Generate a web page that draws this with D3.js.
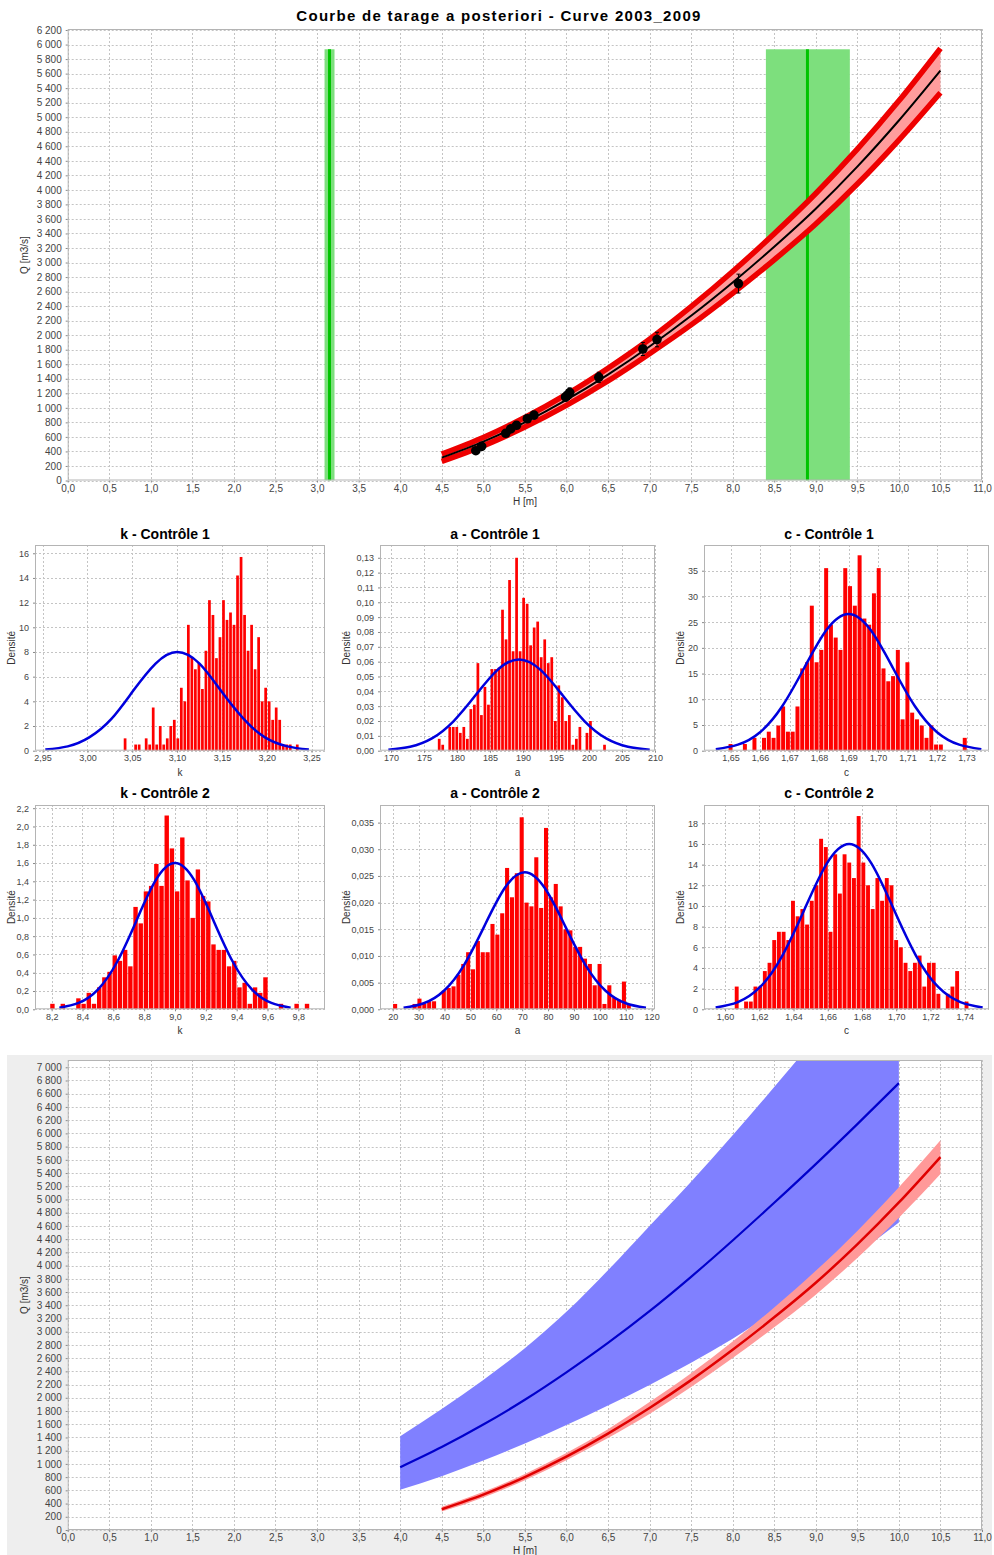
<!DOCTYPE html>
<html><head><meta charset="utf-8">
<script src="https://cdn.jsdelivr.net/npm/d3@7"></script>
<style>body{margin:0;background:#fff}svg{display:block}text{font-family:"Liberation Sans",Arial,sans-serif}</style>
</head><body><svg id="c" width="994" height="1555"></svg>
<script>
// ---------- DATA ----------
// Rating curve (posterior): stage H, median Q, uncertainty bands
const curveH    = [4.5, 5.0, 5.5, 6.0, 6.5, 7.0, 7.5, 8.0, 8.5, 9.0, 9.5, 10.0, 10.5];
const curveMed  = [314, 535, 801, 1109, 1458, 1845, 2267, 2726, 3217, 3740, 4320, 4955, 5642];
const curveLow  = [278, 493, 753, 1054, 1390, 1755, 2162, 2601, 3067, 3560, 4115, 4725, 5387];
const curveHigh = [350, 577, 849, 1164, 1526, 1935, 2372, 2851, 3367, 3920, 4525, 5185, 5897];
const totalLow  = [264, 477, 735, 1034, 1370, 1745, 2142, 2576, 3037, 3530, 4080, 4685, 5337];
const totalHigh = [364, 593, 867, 1184, 1546, 1945, 2392, 2876, 3397, 3950, 4560, 5225, 5947];
// gaugings
const gaugH   = [4.91, 4.98, 5.27, 5.33, 5.40, 5.53, 5.61, 5.99, 6.02, 6.04, 6.39, 6.92, 7.09, 8.07];
const gaugQ   = [410, 470, 650, 710, 760, 850, 900, 1150, 1180, 1210, 1420, 1810, 1940, 2710];
const gaugErr = [30, 30, 40, 40, 45, 50, 50, 60, 65, 65, 70, 90, 100, 130];
// activation stages (green)
const actLow  = [3.09, 8.40];
const actHigh = [3.21, 9.41];
const actMid  = [3.15, 8.90];
const actTop  = [5935, 5935];
// prior curve (bottom chart)
const priorH    = [4.0, 4.5, 5.0, 5.5, 6.0, 6.5, 7.0, 7.5, 8.0, 8.5, 9.0, 9.5, 10.0];
const priorMed  = [950, 1255, 1595, 1970, 2385, 2830, 3310, 3830, 4380, 4950, 5535, 6140, 6760];
const priorLow  = [610, 815, 1050, 1310, 1590, 1885, 2195, 2530, 2895, 3295, 3725, 4180, 4650];
const priorHigh = [1420, 1830, 2270, 2750, 3300, 3930, 4600, 5270, 5970, 6700, 7450, 8230, 9030];

// histograms: first bin centre, bin width, densities
const k1Start = 3.042, k1Width = 0.00392;
const k1Dens = [1.0,0,0,0.5,0.5,0,1.0,0.5,3.5,0.5, 2.0,0.5,1.0,2.0,2.5,1.0,5.1,4.0,10.2,7.6, 6.6,7.1,5.0,8.1,12.2,11.0,7.5,9.2,12.2,10.6, 11.2,10.2,14.2,15.7,11.0,8.1,10.2,6.6,9.2,4.0, 5.1,4.0,2.5,3.5,2.5,0.5,0.5,0.5,0,0.5];
const a1Start = 177.3, a1Width = 0.533;
const a1Dens = [0.008,0.004,0,0.016,0.016,0.016,0.012,0.016,0.008,0.028, 0.031,0.059,0.024,0.043,0.031,0.055,0.055,0.056,0.095,0.075, 0.115,0.067,0.13,0.067,0.103,0.099,0.071,0.083,0.087,0.063, 0.075,0.059,0.063,0.020,0.044,0.036,0.020,0.024,0.004,0.008, 0.016,0,0.012,0.020,0,0,0,0.004];
const c1Start = 1.650, c1Width = 0.00162;
const c1Dens = [1.3,0,0,1.3,0,2.5,0,2.5,3.7,2.5, 4.9,8.6,3.7,3.7,8.6,16.0,17.2,28.2,17.2,19.6, 35.5,24.5,22.0,19.6,35.5,32.0,28.2,38.0,25.7,24.5, 30.6,35.5,16.0,13.5,14.5,19.6,6.1,17.2,7.4,6.1, 4.9,2.5,4.9,1.2,1.2,0,0,0,0,2.5];
const k2Start = 8.205, k2Width = 0.0337;
const k2Dens = [0.06,0,0.06,0,0,0.12,0.06,0.18,0.06,0.24, 0.35,0.41,0.59,0.53,0.65,0.47,1.12,0.94,1.29,1.35, 1.59,1.35,2.12,1.76,1.29,1.88,1.41,1.00,1.53,1.24, 1.18,0.71,0.65,0.65,0.47,0.53,0.24,0.29,0.06,0.24, 0.18,0.35,0,0,0.06,0,0,0.06,0,0.06];
const a2Start = 20.94, a2Width = 1.88;
const a2Dens = [0.001,0,0,0,0.001,0.002,0.001,0.0015,0.0015,0, 0.0035,0.004,0.0043,0.0065,0.0085,0.0107,0.0075,0.0128,0.0107,0.0107, 0.016,0.014,0.018,0.0265,0.021,0.0255,0.036,0.020,0.0193,0.0285, 0.019,0.034,0.021,0.0235,0.0193,0.015,0.0148,0.0117,0.0117,0.0095, 0.0085,0.0045,0.0085,0.001,0.0045,0.0022,0.0018,0.0052,0.001,0];
const c2Start = 1.6068, c2Width = 0.00274;
const c2Dens = [2.2,0,0.75,0.75,2.2,2.2,3.7,4.5,6.7,7.5, 7.5,6.7,10.5,9.0,9.7,8.2,10.5,12.0,16.5,15.7, 7.5,15.0,11.2,15.0,14.2,12.7,18.7,14.2,12.0,9.7, 12.7,10.5,12.7,12.0,6.7,6.0,4.5,3.7,4.5,5.2, 2.2,4.5,4.5,1.5,0,1.5,2.2,3.7,0,0.75];
// prior densities (blue curves)
const k1CurveX = [2.953,2.978,3.002,3.027,3.051,3.076,3.100,3.125,3.149,3.174,3.198,3.223,3.247];
const k1CurveY = [0.09,0.35,1.08,2.60,4.85,7.06,8.00,7.06,4.85,2.60,1.08,0.35,0.09];
const a1CurveX = [169.6,172.9,176.2,179.5,182.8,186.1,189.4,192.7,196.0,199.3,202.6,205.9,209.2];
const a1CurveY = [0.0007,0.0027,0.0083,0.0200,0.0373,0.0543,0.0615,0.0543,0.0373,0.0200,0.0083,0.0027,0.0007];
const c1CurveX = [1.645,1.6525,1.660,1.6675,1.675,1.6825,1.690,1.6975,1.705,1.7125,1.720,1.7275,1.735];
const c1CurveY = [0.30,1.17,3.60,8.64,16.13,23.47,26.6,23.47,16.13,8.64,3.60,1.17,0.30];
const k2CurveX = [8.25,8.375,8.50,8.625,8.75,8.875,9.00,9.125,9.25,9.375,9.50,9.625,9.75];
const k2CurveY = [0.018,0.070,0.216,0.520,0.970,1.412,1.60,1.412,0.970,0.520,0.216,0.070,0.018];
const a2CurveX = [24.2,32.0,39.8,47.6,55.4,63.2,71.0,78.8,86.6,94.4,102.2,110.0,117.8];
const a2CurveY = [0.00029,0.00113,0.00348,0.00834,0.01559,0.02268,0.0257,0.02268,0.01559,0.00834,0.00348,0.00113,0.00029];
const c2CurveX = [1.5945,1.6075,1.6205,1.6335,1.6465,1.6595,1.6725,1.6855,1.6985,1.7115,1.7245,1.7375,1.7505];
const c2CurveY = [0.18,0.70,2.16,5.20,9.70,14.12,16.0,14.12,9.70,5.20,2.16,0.70,0.18];

// tick labels
const hTicks = [0,0.5,1,1.5,2,2.5,3,3.5,4,4.5,5,5.5,6,6.5,7,7.5,8,8.5,9,9.5,10,10.5,11];
const qTopTicks = d3.range(0, 6201, 200);
const qBotTicks = d3.range(0, 7001, 200);
const k1XT = [2.95,3.00,3.05,3.10,3.15,3.20,3.25], k1YT = [0,2,4,6,8,10,12,14,16];
const a1XT = [170,175,180,185,190,195,200,205,210], a1YT = [0,0.01,0.02,0.03,0.04,0.05,0.06,0.07,0.08,0.09,0.10,0.11,0.12,0.13];
const c1XT = [1.65,1.66,1.67,1.68,1.69,1.70,1.71,1.72,1.73], c1YT = [0,5,10,15,20,25,30,35];
const k2XT = [8.2,8.4,8.6,8.8,9.0,9.2,9.4,9.6,9.8], k2YT = [0,0.2,0.4,0.6,0.8,1.0,1.2,1.4,1.6,1.8,2.0,2.2];
const a2XT = [20,30,40,50,60,70,80,90,100,110,120], a2YT = [0,0.005,0.010,0.015,0.020,0.025,0.030,0.035];
const c2XT = [1.60,1.62,1.64,1.66,1.68,1.70,1.72,1.74], c2YT = [0,2,4,6,8,10,12,14,16,18];

// ---------- DRAWING ----------
const svg = d3.select("#c");
const loc = d3.formatLocale({decimal:",", thousands:" ", grouping:[3], currency:["",""]});
const fQ = loc.format(",.0f"), f0 = loc.format(".0f"), f1 = loc.format(".1f"), f2 = loc.format(".2f"), f3 = loc.format(".3f");
let clipN = 0;

function frame(c){
  const x = d3.scaleLinear().domain(c.xd).range([c.x0, c.x1]);
  const y = d3.scaleLinear().domain(c.yd).range([c.y1, c.y0]);
  const g = svg.append("g");
  g.append("rect").attr("x",c.x0).attr("y",c.y0).attr("width",c.x1-c.x0).attr("height",c.y1-c.y0).attr("fill","#fff");
  const grid = g.append("g").attr("stroke","#c4c4c4").attr("stroke-width",1).attr("stroke-dasharray","2,2");
  grid.selectAll(null).data(c.xt).join("line")
    .attr("x1",d=>Math.round(x(d))+0.5).attr("x2",d=>Math.round(x(d))+0.5).attr("y1",c.y0).attr("y2",c.y1);
  grid.selectAll(null).data(c.yt).join("line")
    .attr("y1",d=>Math.round(y(d))+0.5).attr("y2",d=>Math.round(y(d))+0.5).attr("x1",c.x0).attr("x2",c.x1);
  const ax = g.append("g").attr("transform",`translate(0,${c.y1})`)
    .call(d3.axisBottom(x).tickValues(c.xt).tickFormat(c.xf).tickSize(2).tickPadding(2));
  const ay = g.append("g").attr("transform",`translate(${c.x0},0)`)
    .call(d3.axisLeft(y).tickValues(c.yt).tickFormat(c.yf).tickSize(2).tickPadding(4));
  [ax, ay].forEach(a=>{
    a.select(".domain").remove();
    a.selectAll(".tick line").attr("stroke","#888");
    a.selectAll("text").attr("fill","#444").style("font-size",c.fs+"px").style("font-family","'Liberation Sans',Arial,sans-serif");
  });
  const id = "clp"+(clipN++);
  svg.append("clipPath").attr("id",id).append("rect").attr("x",c.x0).attr("y",c.y0).attr("width",c.x1-c.x0).attr("height",c.y1-c.y0);
  const data = svg.append("g").attr("clip-path",`url(#${id})`);
  const finish = ()=> svg.append("rect").attr("x",c.x0+0.5).attr("y",c.y0+0.5).attr("width",c.x1-c.x0-1).attr("height",c.y1-c.y0-1)
      .attr("fill","none").attr("stroke","#b4b4b4");
  return {x, y, data, finish};
}
function label(txt, x, y, size, rot, bold, anchor){
  const t = svg.append("text").attr("x",x).attr("y",y).text(txt).attr("font-size",size)
    .attr("text-anchor",anchor||"middle").attr("fill", bold ? "#000" : "#333").attr("font-weight", bold?"bold":"normal");
  if(rot) t.attr("transform",`rotate(-90,${x},${y})`);
  return t;
}

// ===== Top chart =====
label("Courbe de tarage a posteriori - Curve 2003_2009", 499, 20.5, 15, false, true).attr("letter-spacing","1.3px");
const T = frame({x0:67.7,x1:982,y0:29,y1:480.5,xd:[0,11],yd:[0,6214],xt:hTicks,yt:qTopTicks,xf:f1,yf:fQ,fs:10});
T.data.selectAll(null).data(actLow).join("rect")
  .attr("x",(d,i)=>T.x(actLow[i])).attr("width",(d,i)=>T.x(actHigh[i])-T.x(actLow[i]))
  .attr("y",(d,i)=>T.y(actTop[i])).attr("height",(d,i)=>T.y(0)-T.y(actTop[i]))
  .attr("fill","#7ddf7d");
T.data.selectAll(null).data(actMid).join("line")
  .attr("x1",(d,i)=>T.x(actMid[i])).attr("x2",(d,i)=>T.x(actMid[i]))
  .attr("y1",(d,i)=>T.y(actTop[i])).attr("y2",T.y(0))
  .attr("stroke","#00c400").attr("stroke-width",3);
const idx = d3.range(curveH.length);
T.data.append("path").datum(idx).attr("fill","#ff9c9c")
  .attr("d", d3.area().x(i=>T.x(curveH[i])).y0(i=>T.y(totalLow[i])).y1(i=>T.y(totalHigh[i])).curve(d3.curveMonotoneX));
[totalLow, totalHigh].forEach(arr=>{
  T.data.append("path").datum(idx).attr("fill","none").attr("stroke","#ee0000").attr("stroke-width",5.5)
    .attr("d", d3.line().x(i=>T.x(curveH[i])).y(i=>T.y(arr[i])).curve(d3.curveMonotoneX));
});
T.data.append("path").datum(idx).attr("fill","none").attr("stroke","#000").attr("stroke-width",2)
  .attr("d", d3.line().x(i=>T.x(curveH[i])).y(i=>T.y(curveMed[i])).curve(d3.curveMonotoneX));
const gi = d3.range(gaugH.length);
const eb = T.data.append("g").attr("stroke","#000").attr("stroke-width",1);
eb.selectAll(null).data(gi).join("path")
  .attr("d", i=>{const xx=T.x(gaugH[i]), y1=T.y(gaugQ[i]-gaugErr[i]), y2=T.y(gaugQ[i]+gaugErr[i]);
    return `M${xx},${y1}V${y2}M${xx-2},${y1}H${xx+2}M${xx-2},${y2}H${xx+2}`;});
T.data.selectAll(null).data(gi).join("circle")
  .attr("cx",i=>T.x(gaugH[i])).attr("cy",i=>T.y(gaugQ[i])).attr("r",4.8).attr("fill","#000");
T.finish();
label("H [m]", 525, 505, 10);
label("Q [m3/s]", 28, 255, 10, true);

// ===== Histograms =====
function hist(c){
  label(c.title, (c.px0+c.px1)/2, c.ty, 14, false, true);
  const F = frame({x0:c.x0,x1:c.x1,y0:c.y0,y1:c.y1,xd:c.xd,yd:c.yd,xt:c.xt,yt:c.yt,xf:c.xf,yf:c.yf,fs:9});
  const w = c.width;
  F.data.selectAll(null).data(c.dens).join("rect")
    .attr("x",(d,i)=>F.x(c.start + i*w - w/2)+0.4)
    .attr("width",(d,i)=>Math.max(0.5, F.x(c.start + i*w + w/2) - F.x(c.start + i*w - w/2) - 0.8))
    .attr("y",d=>F.y(d)).attr("height",d=>F.y(0)-F.y(d)).attr("fill","#ff0000");
  const ci = d3.range(c.cx.length);
  F.data.append("path").datum(ci).attr("fill","none").attr("stroke","#0000dd").attr("stroke-width",2.5)
    .attr("d", d3.line().x(i=>F.x(c.cx[i])).y(i=>F.y(c.cy[i])).curve(d3.curveNatural));
  F.finish();
  label("Densité", c.dx, (c.y0+c.y1)/2, 10, true);
  label(c.xl, (c.x0+c.x1)/2, c.y1+25, 10);
}
const row1 = {y0:545, y1:750.7, ty:539};
const row2 = {y0:805, y1:1009.3, ty:798};
const col1 = {x0:35, x1:325, px0:0, px1:330, dx:15};
const col2 = {x0:380, x1:655, px0:330, px1:660, dx:350};
const col3 = {x0:704, x1:989, px0:664, px1:994, dx:684};
hist({...row1,...col1,title:"k - Contrôle 1",xl:"k",xd:[2.9415,3.265],yd:[0,16.67],xt:k1XT,yt:k1YT,xf:f2,yf:f0,start:k1Start,width:k1Width,dens:k1Dens,cx:k1CurveX,cy:k1CurveY});
hist({...row1,...col2,title:"a - Contrôle 1",xl:"a",xd:[168.33,210],yd:[0,0.1386],xt:a1XT,yt:a1YT,xf:f0,yf:f2,start:a1Start,width:a1Width,dens:a1Dens,cx:a1CurveX,cy:a1CurveY});
hist({...row1,...col3,title:"c - Contrôle 1",xl:"c",xd:[1.641,1.7376],yd:[0,40],xt:c1XT,yt:c1YT,xf:f2,yf:f0,start:c1Start,width:c1Width,dens:c1Dens,cx:c1CurveX,cy:c1CurveY});
hist({...row2,...col1,title:"k - Contrôle 2",xl:"k",xd:[8.092,9.973],yd:[0,2.235],xt:k2XT,yt:k2YT,xf:f1,yf:f1,start:k2Start,width:k2Width,dens:k2Dens,cx:k2CurveX,cy:k2CurveY});
hist({...row2,...col2,title:"a - Contrôle 2",xl:"a",xd:[15.1,121.3],yd:[0,0.0383],xt:a2XT,yt:a2YT,xf:f0,yf:f3,start:a2Start,width:a2Width,dens:a2Dens,cx:a2CurveX,cy:a2CurveY});
hist({...row2,...col3,title:"c - Contrôle 2",xl:"c",xd:[1.5877,1.7542],yd:[0,19.77],xt:c2XT,yt:c2YT,xf:f2,yf:f0,start:c2Start,width:c2Width,dens:c2Dens,cx:c2CurveX,cy:c2CurveY});

// ===== Bottom chart =====
svg.append("rect").attr("x",7).attr("y",1055).attr("width",985).attr("height",500).attr("fill","#eeeeee");
const B = frame({x0:67.7,x1:982,y0:1060,y1:1530,xd:[0,11],yd:[0,7110],xt:hTicks,yt:qBotTicks,xf:f1,yf:fQ,fs:10});
const pi = d3.range(priorH.length);
B.data.append("path").datum(pi).attr("fill","#8080ff")
  .attr("d", d3.area().x(i=>B.x(priorH[i])).y0(i=>B.y(priorLow[i])).y1(i=>B.y(priorHigh[i])).curve(d3.curveMonotoneX));
B.data.append("path").datum(pi).attr("fill","none").attr("stroke","#0000cc").attr("stroke-width",2.2)
  .attr("d", d3.line().x(i=>B.x(priorH[i])).y(i=>B.y(priorMed[i])).curve(d3.curveMonotoneX));
B.data.append("path").datum(idx).attr("fill","#ff9999")
  .attr("d", d3.area().x(i=>B.x(curveH[i])).y0(i=>B.y(curveLow[i])).y1(i=>B.y(curveHigh[i])).curve(d3.curveMonotoneX));
B.data.append("path").datum(idx).attr("fill","none").attr("stroke","#e00000").attr("stroke-width",2.5)
  .attr("d", d3.line().x(i=>B.x(curveH[i])).y(i=>B.y(curveMed[i])).curve(d3.curveMonotoneX));
B.finish();
label("H [m]", 525, 1554, 10);
label("Q [m3/s]", 28, 1295, 10, true);
</script></body></html>
